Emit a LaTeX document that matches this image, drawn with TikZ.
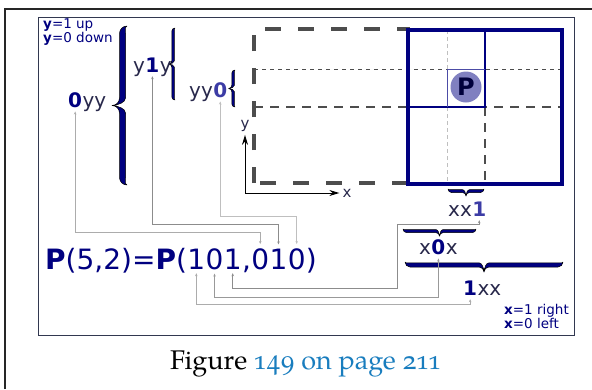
\documentclass[tikz,border=0pt]{standalone}
\usepackage{fontspec}
\setmainfont{DejaVu Sans}
\newfontfamily\capfont{texgyrepagella-regular.otf}[Numbers=OldStyle]
\usetikzlibrary{positioning, arrows.meta}

\definecolor{navyblue}{RGB}{0,0,128}
\definecolor{bitlight}{RGB}{60,60,165}
\definecolor{letterdark}{RGB}{40,40,75}
\definecolor{pfill}{RGB}{128,128,192}
\definecolor{pletter}{RGB}{0,0,60}
\definecolor{framecol}{RGB}{50,56,80}
\definecolor{dashcol}{RGB}{77,77,77}
\definecolor{linkblue}{RGB}{25,125,190}

% tapered curly brace: orientation, start, length, curl, thickness
\newcommand{\brcurl}[5]{%
  \begin{scope}[shift={#2}, #1]
    \pgfmathsetmacro\brmid{#3/2}
    \path[bracefill] (0,0)
      .. controls (0,{0.55*#4}) and ({0.45*#4},#4) .. (#4,#4)
      -- ({\brmid-#4},#4)
      .. controls ({\brmid-0.45*#4},#4) and (\brmid,{1.45*#4}) .. (\brmid,{2*#4})
      .. controls (\brmid,{1.45*#4}) and ({\brmid+0.45*#4},#4) .. ({\brmid+#4},#4)
      -- ({#3-#4},#4)
      .. controls ({#3-0.45*#4},#4) and (#3,{0.55*#4}) .. (#3,0)
      .. controls (#3,{0.3*#4}) and ({#3-0.3*#4},{#4-#5}) .. ({#3-#4},{#4-#5})
      -- ({\brmid+#4},{#4-#5})
      .. controls ({\brmid+0.4*#4},{#4-#5}) and ({\brmid+0.05*#4},{1.2*#4}) .. (\brmid,{2*#4})
      .. controls ({\brmid-0.05*#4},{1.2*#4}) and ({\brmid-0.4*#4},{#4-#5}) .. ({\brmid-#4},{#4-#5})
      -- (#4,{#4-#5})
      .. controls ({0.3*#4},{#4-#5}) and (0,{0.3*#4}) .. (0,0) -- cycle;
  \end{scope}}

\tikzset{
    note/.style = {
        inner sep=0, anchor=base west, text=navyblue,
        font=\fontsize{13.5}{14}\selectfont
    },
    rest/.style = {
        inner sep=0, anchor=base west, text=letterdark,
        font=\fontsize{20}{20}\selectfont
    },
    bit/.style = {
        rest, inner ysep=4pt, text=navyblue,
        font=\fontsize{20}{20}\selectfont\bfseries
    },
    digit/.style = {
        inner xsep=0, inner ysep=4pt, anchor=base west,
        text=navyblue, font=\fontsize{28}{28}\selectfont
    },
    link/.style = {
        {Stealth[length=3pt,width=2.5pt]}-{Stealth[length=3pt,width=2.5pt]},
        line width=0.6pt, gray!70
    },
    axisarrow/.style = {
        {Stealth[length=10pt,width=6pt]}-{Stealth[length=10pt,width=6pt]},
        line width=1pt
    },
    axlabel/.style = {inner sep=3pt, text=letterdark, font=\fontsize{15}{15}\selectfont},
    domainbox/.style = {line width=3.5pt, dashcol, dash pattern=on 16pt off 17pt},
    guide/.style = {line width=0.8pt, dashcol, dash pattern=on 4pt off 4pt},
    bigguide/.style = {line width=2pt, dashcol, dash pattern=on 9pt off 7pt},
    faintguide/.style = {line width=0.8pt, gray!50, dash pattern=on 4pt off 3pt},
    cell/.style = {line width=3.5pt, navyblue},
    pdot/.style = {
        circle, fill=pfill, minimum size=31pt, inner sep=0,
        text=pletter, font=\fontsize{24}{24}\selectfont\bfseries
    },
    bracefill/.style = {fill=navyblue, draw=black, line width=0.5pt, line join=round},
    alongx/.style = {x={(1pt,0pt)}, y={(0pt,-1pt)}},
    alongy/.style = {x={(0pt,-1pt)}, y={(-1pt,0pt)}}
}

\begin{document}
\begin{tikzpicture}[x=1pt, y=-1pt]
\useasboundingbox (0,0) rectangle (592,389);

% page and figure frames
\draw[line width=1.5pt, black!85] (5,389) -- (5,9) -- (592,9);
\draw[line width=1pt, framecol] (38,17) rectangle (574,335);

% domain, guides and cells
\draw[domainbox] (254,183) rectangle (408,29);
\draw[guide] (254,69) -- (560,69);
\draw[bigguide] (254,107) -- (562,107);
\draw[faintguide] (447,30) -- (447,184);
\draw[bigguide] (485,107) -- (485,184);
\draw[cell] (408,30) rectangle (562,184);
\draw[line width=2pt, navyblue] (408,30) rectangle (485,107);
\draw[line width=1pt, navyblue!70] (447,107) -- (447,69) -- (485,69);
\node (pt) [pdot] at (466,87) {P};

% axes
\node (ylab) [axlabel] at (245,126) {y};
\node (xlab) [axlabel] at (347,193) {x};
\draw[axisarrow] (ylab) |- (xlab);

% notes
\node (ynote1) [note] at (43,28) {\textbf{y}=1 up};
\node (ynote2) [note] at (43,42) {\textbf{y}=0 down};
\node (xnote1) [note] at (504,314) {\textbf{x}=1 right};
\node (xnote2) [note] at (504,328) {\textbf{x}=0 left};

% y braces and labels
\brcurl{alongy}{(127,26)}{159}{7.5}{6}
\brcurl{alongy}{(175,28)}{72}{3.2}{2.6}
\brcurl{alongy}{(235,70)}{37}{3.2}{2.6}
\node (lyA) [bit] at (68,107) {0};
\node (lyArest) [rest, base right=0pt of lyA] {yy};
\node (lyBpre) [rest] at (133,72) {y};
\node (lyB) [bit, base right=0pt of lyBpre] {1};
\node (lyBpost) [rest, base right=0pt of lyB] {y};
\node (lyCpre) [rest] at (189,97) {yy};
\node (lyC) [bit, text=bitlight, base right=0pt of lyCpre] {0};

% x braces and labels
\brcurl{alongx}{(448,189)}{36}{3.5}{2.8}
\brcurl{alongx}{(403,229)}{73}{3.6}{3}
\brcurl{alongx}{(405,262)}{158}{5}{4.2}
\node (lxCpre) [rest] at (448,216) {xx};
\node (lxC) [bit, text=bitlight, base right=0pt of lxCpre] {1};
\node (lxBpre) [rest] at (419,254) {x};
\node (lxB) [bit, base right=0pt of lxBpre] {0};
\node (lxBpost) [rest, base right=0pt of lxB] {x};
\node (lxA) [bit] at (463,295) {1};
\node (lxArest) [rest, base right=0pt of lxA] {xx};

% formula
\node (fpre) [digit] at (45,269) {\textbf{P}(5,2)=\textbf{P}(};
\node (xb1) [digit, base right=0pt of fpre] {1};
\node (xb2) [digit, base right=0pt of xb1] {0};
\node (xb3) [digit, base right=0pt of xb2] {1};
\node (fcomma) [digit, base right=0pt of xb3] {,};
\node (yb1) [digit, base right=0pt of fcomma] {0};
\node (yb2) [digit, base right=0pt of yb1] {1};
\node (yb3) [digit, base right=0pt of yb2] {0};
\node (fend) [digit, base right=0pt of yb3] {)};

% links
\draw[link, gray!65] (yb1.north) -- ++(0,-12) -| (lyA.south);
\draw[link, gray!90] (yb2.north) -- ++(0,-20) -| (lyB.south);
\draw[link, gray!50] (yb3.north) -- ++(0,-28) -| (lyC.south);
\draw[link, gray!90] (xb3.south) -- ++(0,15) -| (397,224) -| (lxC.south);
\draw[link, gray!80] (xb2.south) -- ++(0,24) -| (lxB.south);
\draw[link, gray!65] (xb1.south) -- ++(0,31) -| (lxA.south);

% caption
\node (cap) [anchor=base west, inner sep=0, font=\capfont\fontsize{27}{27}\selectfont] at (170,369)
    {Figure \textcolor{linkblue}{149 on page 211}};

\end{tikzpicture}
\end{document}
